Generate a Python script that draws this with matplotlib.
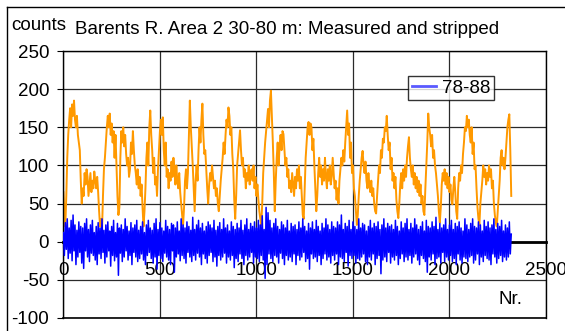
import numpy as np
import matplotlib
matplotlib.use("Agg")
import matplotlib.pyplot as plt
from matplotlib.lines import Line2D

plt.rcParams['font.family'] = ['Liberation Sans', 'DejaVu Sans']
plt.rcParams['axes.unicode_minus'] = False

# ---- data (sample step of 5 along "Nr.") ----
step = 5
measured = [
    65,40,20,60,110,140,160,175,150,180,165,185,160,150,165,140,130,120,80,50,
    70,60,90,75,95,85,60,75,90,65,80,70,92,80,70,85,65,40,20,30,
    15,60,95,110,130,150,165,150,168,140,155,130,145,110,140,100,60,35,45,110,
    145,130,150,125,140,115,100,110,85,95,130,115,145,120,100,90,75,95,70,85,
    60,75,45,20,40,70,110,130,100,150,172,140,120,90,110,75,85,60,95,120,
    145,160,140,163,120,100,130,85,95,70,90,80,105,85,110,95,75,100,80,70,
    90,65,50,35,22,45,80,95,70,90,140,185,150,125,100,70,40,80,100,80,
    120,150,130,160,181,140,115,120,95,70,50,75,90,80,100,85,70,80,60,70,
    50,40,60,80,95,110,130,115,140,160,150,176,165,140,150,115,95,55,30,60,
    100,115,130,146,120,100,110,85,95,70,90,80,100,75,90,95,80,100,70,85,
    60,75,55,40,30,22,50,90,110,130,145,160,174,150,185,198,165,130,90,40,
    80,110,130,100,125,140,120,145,141,120,100,110,85,95,70,80,65,90,75,60,
    85,70,95,80,100,70,85,60,35,30,70,110,130,150,157,140,155,150,120,135,
    100,70,40,60,90,110,85,100,75,95,80,110,85,70,95,80,100,75,85,110,
    90,70,80,55,70,50,80,95,110,100,120,105,130,150,172,140,155,110,130,90,
    100,70,60,40,22,35,60,80,95,110,119,100,90,105,80,70,90,75,65,80,
    60,70,50,40,37,60,80,100,90,120,110,135,130,150,145,165,140,120,130,95,
    110,80,90,70,85,55,40,31,50,75,90,70,95,80,100,85,110,125,137,110,
    95,85,100,75,90,70,85,65,80,60,75,50,60,40,35,70,100,130,168,150,
    140,125,140,110,120,100,90,75,60,40,25,45,75,90,80,95,75,90,70,85,
    65,75,55,49,70,85,65,40,30,70,90,80,100,90,115,130,150,145,165,150,
    160,140,130,150,115,130,95,100,70,45,30,22,50,65,80,100,85,95,75,90,
    80,100,85,95,70,80,50,35,25,20,40,60,80,110,120,100,110,95,110,130,
    150,160,167,120,60,
]
stripped = [
    12,-18,25,-10,30,-22,18,-15,28,-25,35,-12,22,-30,15,-20,26,-14,20,-28,
    18,-35,24,-12,30,-20,16,-26,22,-15,28,-18,12,-24,20,-30,25,-16,18,-22,
    30,-14,15,-28,22,-20,26,-12,14,-32,20,-18,28,-25,12,-20,24,-44,18,-15,
    22,-26,16,-20,30,-12,20,-24,14,-18,25,-30,18,-14,22,-20,28,-26,15,-22,
    20,-16,26,-24,12,-30,22,-18,28,-14,18,-22,15,-28,24,-20,30,-36,16,-18,
    25,-22,18,-26,14,-15,28,-20,20,-24,16,-30,24,-12,22,-40,18,-20,26,-16,
    14,-25,30,-18,22,-22,18,-28,26,-14,20,-20,15,-26,32,-18,16,-24,22,-15,
    28,-20,18,-30,24,-16,14,-22,20,-28,26,-18,22,-14,18,-26,28,-20,15,-32,
    20,-18,25,-24,16,-20,30,-15,18,-28,22,-20,14,-24,26,-18,20,-34,16,-22,
    24,-26,18,-16,28,-22,15,-30,22,-18,30,-24,16,-20,24,-14,20,-28,26,-20,
    18,-22,28,-26,22,-18,34,-24,16,-48,45,-30,38,-16,28,-22,18,-26,24,-18,
    30,-20,20,-28,16,-15,26,-22,22,-30,18,-18,28,-24,14,-20,24,-26,20,-16,
    22,-30,16,-18,26,-24,18,-20,30,-14,20,-26,14,-22,24,-36,18,-16,26,-22,
    16,-20,28,-26,20,-18,14,-30,24,-22,18,-16,30,-24,22,-20,16,-28,26,-18,
    20,-24,18,-16,26,-30,22,-20,35,-22,16,-26,24,-14,20,-32,28,-18,16,-22,
    26,-18,20,-28,16,-22,30,-24,18,-20,24,-16,22,-26,14,-30,20,-20,28,-24,
    18,-16,24,-30,20,-22,26,-18,16,-42,22,-24,30,-20,18,-26,24,-14,20,-28,
    22,-20,16,-24,28,-18,20,-30,14,-22,26,-16,18,-26,24,-20,30,-24,16,-18,
    24,-28,18,-20,30,-16,22,-24,16,-30,20,-18,26,-22,14,-26,28,-40,20,-20,
    18,-24,26,-16,20,-30,32,-22,16,-20,24,-28,18,-14,22,-26,30,-20,16,-24,
    22,-18,28,-26,16,-22,24,-30,20,-16,26,-24,18,-28,14,-20,30,-22,22,-26,
    16,-20,24,-18,30,-28,20,-24,18,-16,26,-30,22,-20,14,-26,28,-18,20,-22,
    26,-24,18,-30,22,-16,30,-20,16,-28,24,-22,20,-18,28,-26,14,-20,22,-24,
    18,-20,26,-16,10,
]
xticks = [0, 500, 1000, 1500, 2000, 2500]
yticks = [-100, -50, 0, 50, 100, 150, 200, 250]
legend_label = "78-88"
title = "Barents R. Area 2 30-80 m: Measured and stripped"

W, H = 565, 331
fig = plt.figure(figsize=(W/100, H/100), dpi=100)
fig.patch.set_facecolor('white')

def fx(px): return px / W
def fy(py): return 1 - py / H

ax = fig.add_axes([fx(63.4), fy(318), fx(546) - fx(63.4), fy(51) - fy(318)])
ax.set_xlim(0, 2500)
ax.set_ylim(-100, 250)
ax.set_xticks(xticks)
ax.set_yticks(yticks)

ax.grid(True, color='#2a2a2a', lw=0.9)
ax.set_axisbelow(True)

x_m = np.arange(len(measured)) * step
x_s = np.arange(len(stripped)) * step
ax.plot(x_m, measured, color='#FF9900', lw=1.4, zorder=2)
ax.plot(x_s, stripped, color='#0000FF', lw=1.1, zorder=3)

for s in ['top', 'right', 'left']:
    ax.spines[s].set_color('black')
    ax.spines[s].set_linewidth(1.0)
ax.spines['bottom'].set_position(('data', 0))
ax.spines['bottom'].set_linewidth(2.0)
ax.spines['bottom'].set_zorder(1.5)
ax.axhline(-100, color='black', lw=1.2, clip_on=False, zorder=4)

ax.tick_params(axis='y', direction='out', length=4.3, width=0.8, pad=6.0,
               labelsize=13.5, colors='black')
ax.tick_params(axis='x', direction='out', length=4.3, width=0.8, pad=10.5,
               labelsize=13.5, colors='black')

# outer chart frame
fig.add_artist(Line2D([fx(6.7), fx(6.7)], [fy(7.3), 0], color='black', lw=1.0))
fig.add_artist(Line2D([fx(6.7), 1], [fy(7.3), fy(7.3)], color='black', lw=1.0))

fig.text(fx(11), fy(30), "counts", fontsize=13.5, ha='left', va='baseline')
fig.text(fx(287.5), fy(34), title, fontsize=13.5, ha='center', va='baseline')
fig.text(fx(510), fy(299), "Nr.", fontsize=13.5, ha='center', va='center')

handle = Line2D([], [], color='#5a5aff', lw=2)
leg = fig.legend([handle], [legend_label], loc='upper left',
                 bbox_to_anchor=(fx(408), fy(75.7)), borderaxespad=0,
                 fontsize=13.5, frameon=True, fancybox=False, edgecolor='black',
                 handlelength=1.3, handletextpad=0.3, borderpad=0.2)
leg.get_frame().set_linewidth(1.0)

fig.savefig("out.png", dpi=100, facecolor='white')
